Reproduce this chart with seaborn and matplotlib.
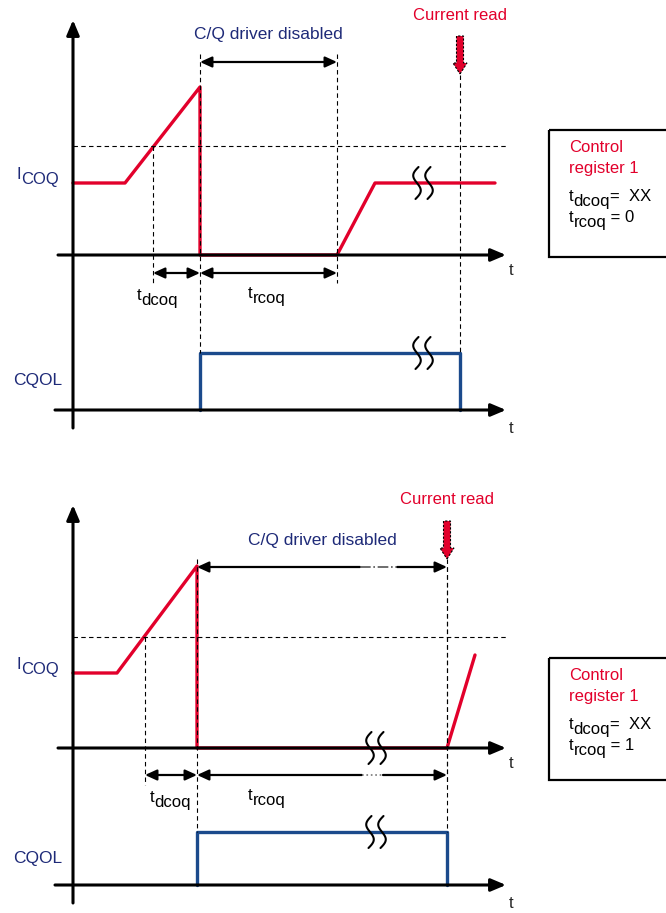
import numpy as np
import pandas as pd
import matplotlib
matplotlib.use("Agg")
import matplotlib.pyplot as plt
from matplotlib.patches import FancyArrowPatch, Rectangle
import seaborn as sns

sns.set_theme(style="white")
plt.rcParams['font.family'] = ['Liberation Sans', 'DejaVu Sans']

RED = '#E2002B'
NAVY = '#1E2A78'
BLUE = '#1B4A8C'

# waveforms (time, level) in drawing units, top panel: t_rcoq = 0
top_cur_t = [73, 125, 200, 200, 337, 375, 495]
top_cur_y = [183, 183, 87, 255, 255, 183, 183]
top_cqol_t = [200, 200, 460, 460]
top_cqol_y = [410, 353, 353, 410]

# bottom panel: t_rcoq = 1
bot_cur_t = [73, 117, 197, 197, 447, 475]
bot_cur_y = [673, 673, 566, 748, 748, 655]
bot_cqol_t = [197, 197, 447, 447]
bot_cqol_y = [885, 832, 832, 885]

# marker times
top_marks = {'thr': 153, 'off': 200, 'on': 337, 'read': 460}
bot_marks = {'thr': 145, 'off': 197, 'on': 447, 'read': 447}

fig = plt.figure(figsize=(6.66, 9.13), dpi=100)
ax = fig.add_axes([0, 0, 1, 1])
ax.set_xlim(0, 666)
ax.set_ylim(913, 0)
ax.axis('off')


def arrow(p0, p1, style='-|>', lw=1.8, hl=7, hw=3.2):
    a = FancyArrowPatch(p0, p1, arrowstyle=f'{style},head_length={hl},head_width={hw}',
                        mutation_scale=1, lw=lw, color='black', shrinkA=0, shrinkB=0,
                        zorder=4)
    ax.add_patch(a)


def dashed(xs, ys):
    ax.plot(xs, ys, color='black', lw=0.8, ls=(0, (4, 3)), zorder=5)


def sub_text(x, y, base, sub, rest='', color='black', size=12):
    t1 = ax.text(x, y, base, color=color, fontsize=size, va='baseline', ha='left')
    t2 = ax.annotate(sub, xy=(1, 0), xycoords=t1, xytext=(0, -3.5),
                     textcoords='offset points', color=color, fontsize=size,
                     va='bottom', ha='left')
    if rest:
        ax.annotate(rest, xy=(1, 0), xycoords=t2, xytext=(0, 3.5),
                    textcoords='offset points', color=color, fontsize=size,
                    va='bottom', ha='left')


def squiggle(xc, yc, h=16):
    s = np.linspace(0, 1, 40)
    for dx in (-6, 6):
        xs = xc + dx - 4.5 * np.sin(2 * np.pi * s) + 3 * (0.5 - s)
        ys = yc - h + 2 * h * s
        ax.plot(xs, ys, color='black', lw=1.5, zorder=6)


def panel(cur_t, cur_y, cq_t, cq_y, m, y_top, y_cur, y_thr, y_icoq, y_cq, y_cqhi,
          y_dis, y_meas, brk_x, gaps, reg_val, box_y):
    # axes
    arrow((73, y_cq + 18), (73, y_top), lw=2.2, hl=9, hw=3.8)
    arrow((58, y_cur), (506, y_cur), lw=2.2, hl=9, hw=3.8)
    arrow((55, y_cq), (506, y_cq), lw=2.2, hl=9, hw=3.8)
    ax.text(511, y_cur + 23, 't', fontsize=12, ha='center', va='bottom')
    ax.text(511, y_cq + 26, 't', fontsize=12, ha='center', va='bottom')

    # waveforms
    sns.lineplot(x=cur_t, y=cur_y, sort=False, estimator=None, color=RED,
                 lw=2.4, ax=ax, zorder=3)
    sns.lineplot(x=cq_t, y=cq_y, sort=False, estimator=None, color=BLUE,
                 lw=2.4, ax=ax, zorder=3)

    # dashed guides
    dashed([73, 506], [y_thr, y_thr])
    dashed([m['thr'], m['thr']], [y_thr, y_meas + 10])
    dashed([m['off'], m['off']], [y_dis - 8, y_cqhi])
    dashed([m['on'], m['on']], [y_dis - 8, y_meas + 10])
    dashed([m['read'], m['read']], [y_top + 55 if m['read'] != m['on'] else y_dis, y_cqhi])

    # labels
    sub_text(17, y_icoq - 4, 'I', 'COQ', color=NAVY, size=12)
    ax.text(13, y_cqhi + 27, 'CQOL', color=NAVY, fontsize=12.5, va='center')
    ax.text((m['off'] + m['on']) / 2 if gaps is None else 322, y_dis - 27,
            'C/Q driver disabled', color=NAVY, fontsize=12.5, ha='center', va='center')
    ax.text(m['read'], y_top - 5, 'Current read', color=RED, fontsize=12,
            ha='center', va='center')
    ax.arrow(m['read'], y_top + 16, 0, 38, width=7, head_width=14, head_length=11,
             length_includes_head=True, fc=RED, ec='black', ls=(0, (2, 1.5)),
             lw=0.8, zorder=6)

    # interval arrows
    if gaps is None:
        arrow((m['off'], y_dis), (m['on'], y_dis), style='<|-|>', lw=1.6)
        arrow((m['off'], y_meas), (m['on'], y_meas), style='<|-|>', lw=1.6)
    else:
        g0, g1, h0, h1 = gaps
        arrow((g0, y_dis), (m['off'], y_dis), lw=1.6)
        arrow((g1, y_dis), (m['on'], y_dis), lw=1.6)
        ax.plot([g0, g1], [y_dis, y_dis], color='#555555', lw=1.2, ls='-.', zorder=4)
        arrow((h0, y_meas), (m['off'], y_meas), lw=1.6)
        arrow((h1, y_meas), (m['on'], y_meas), lw=1.6)
        ax.plot([h0, h1], [y_meas, y_meas], color='#777777', lw=1.2, ls=':', zorder=4)
    arrow((m['thr'], y_meas), (m['off'], y_meas), style='<|-|>', lw=1.6)
    sub_text(m['thr'] - 16 if gaps is None else m['thr'] + 5, y_meas + 27, 't', 'dcoq')
    sub_text(248, y_meas + 25, 't', 'rcoq')

    # breaks
    squiggle(brk_x, cur_y[-1] if gaps is None else y_cur)
    squiggle(brk_x, y_cqhi)

    # register box
    ax.add_patch(Rectangle((549, box_y), 140, 127 if gaps is None else 122,
                           fill=False, ec='black', lw=1.6, clip_on=True))
    ax.text(569, box_y + 18, 'Control', color=RED, fontsize=12, va='center')
    ax.text(569, box_y + 38, 'register 1', color=RED, fontsize=12, va='center')
    sub_text(569, box_y + 71, 't', 'dcoq', '=  XX')
    sub_text(569, box_y + 92, 't', 'rcoq', f' = {reg_val}')


panel(top_cur_t, top_cur_y, top_cqol_t, top_cqol_y, top_marks,
      y_top=20, y_cur=255, y_thr=146, y_icoq=183, y_cq=410, y_cqhi=353,
      y_dis=62, y_meas=273, brk_x=423, gaps=None, reg_val=0, box_y=130)
panel(bot_cur_t, bot_cur_y, bot_cqol_t, bot_cqol_y, bot_marks,
      y_top=505, y_cur=748, y_thr=637, y_icoq=673, y_cq=885, y_cqhi=832,
      y_dis=567, y_meas=775, brk_x=376, gaps=(360, 397, 362, 383), reg_val=1,
      box_y=658)

fig.savefig('out.png', dpi=100)
